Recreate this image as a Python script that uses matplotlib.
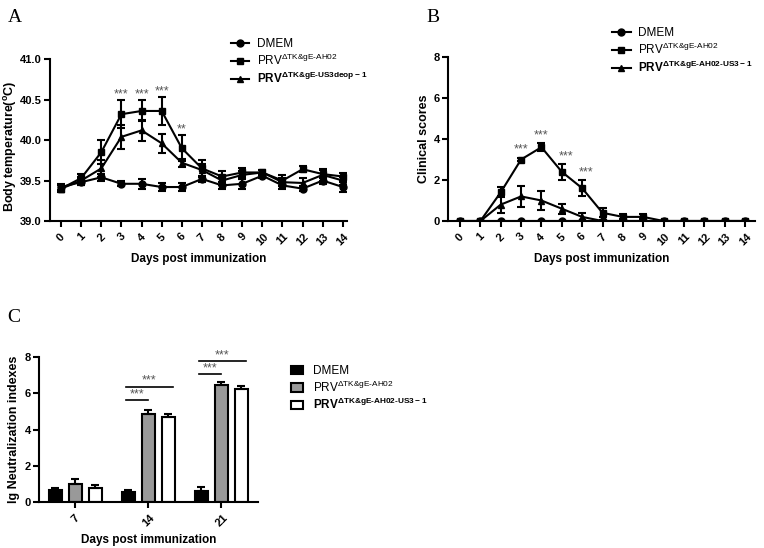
import numpy as np
import matplotlib
matplotlib.use("Agg")
import matplotlib.pyplot as plt

plt.rcParams['font.family'] = ['Liberation Sans', 'DejaVu Sans']
plt.rcParams['mathtext.fontset'] = 'custom'
plt.rcParams['mathtext.rm'] = 'Liberation Sans'

# ---------- data ----------
days = np.arange(15)

# panel A: body temperature
temp_dmem = [39.42, 39.48, 39.54, 39.46, 39.46, 39.42, 39.42, 39.52, 39.44, 39.46, 39.56, 39.44, 39.40, 39.50, 39.42]
temp_dmem_err = [0.04, 0.04, 0.04, 0.03, 0.06, 0.05, 0.05, 0.04, 0.04, 0.06, 0.03, 0.04, 0.03, 0.04, 0.06]
temp_ah02 = [39.40, 39.53, 39.85, 40.32, 40.36, 40.36, 39.90, 39.65, 39.55, 39.60, 39.60, 39.50, 39.64, 39.58, 39.55]
temp_ah02_err = [0.04, 0.05, 0.15, 0.17, 0.13, 0.17, 0.16, 0.10, 0.07, 0.05, 0.03, 0.07, 0.04, 0.05, 0.04]
temp_us3 = [39.40, 39.50, 39.65, 40.04, 40.12, 39.96, 39.72, 39.63, 39.50, 39.57, 39.60, 39.48, 39.47, 39.57, 39.50]
temp_us3_err = [0.04, 0.05, 0.10, 0.15, 0.13, 0.12, 0.05, 0.08, 0.05, 0.05, 0.03, 0.05, 0.06, 0.07, 0.05]

# panel B: clinical scores
score_dmem = [0] * 15
score_ah02 = [0, 0, 1.4, 3.0, 3.6, 2.4, 1.6, 0.4, 0.2, 0.2, 0, 0, 0, 0, 0]
score_ah02_err = [0, 0, 0.25, 0.08, 0.2, 0.38, 0.4, 0.22, 0.12, 0.12, 0, 0, 0, 0, 0]
score_us3 = [0, 0, 0.8, 1.2, 1.0, 0.6, 0.2, 0, 0, 0, 0, 0, 0, 0, 0]
score_us3_err = [0, 0, 0.4, 0.5, 0.45, 0.25, 0.2, 0.05, 0, 0, 0, 0, 0, 0, 0]

# panel C: neutralization indexes
groups = ['7', '14', '21']
neut_dmem = [0.65, 0.55, 0.62]
neut_dmem_err = [0.15, 0.12, 0.22]
neut_ah02 = [1.0, 4.85, 6.45]
neut_ah02_err = [0.25, 0.25, 0.15]
neut_us3 = [0.75, 4.68, 6.22]
neut_us3_err = [0.2, 0.15, 0.2]

HY = '\u2010'
MI = '\u2212'
lab_dmem = 'DMEM'
lab_ah02 = '$\\mathregular{PRV^{\u0394TK&gE' + HY + 'AH02}}$'
lab_us3_a = '$\\mathregular{PRV^{\u0394TK&gE' + HY + 'US3deop' + MI + '1}}$'
lab_us3_b = '$\\mathregular{PRV^{\u0394TK&gE' + HY + 'AH02' + HY + 'US3' + MI + '1}}$'

fig = plt.figure(figsize=(7.64, 5.48), dpi=100)


def style_axes(ax):
    for s in ['top', 'right']:
        ax.spines[s].set_visible(False)
    for s in ['left', 'bottom']:
        ax.spines[s].set_linewidth(1.5)
    ax.tick_params(width=1.5, length=4, labelsize=8)
    ax.tick_params(axis='y', pad=2)
    for t in ax.get_xticklabels() + ax.get_yticklabels():
        t.set_fontweight('bold')


def line_panel(ax, ys, errs, labels):
    markers = ['o', 's', '^']
    handles = []
    for y, e, m, l in zip(ys, errs, markers, labels):
        c = ax.errorbar(days, y, yerr=e, color='k', marker=m, markersize=5, lw=1.5,
                        capsize=3, capthick=1.5, elinewidth=1.5, label=l)
        handles.append(c.lines[0])
    ax.set_xticks(days)
    ax.set_xticklabels([str(d) for d in days], rotation=45)
    ax.set_xlabel('Days post immunization', fontsize=8.5, fontweight='bold')
    return handles


star_kw = dict(ha='center', va='bottom', color='#555555', fontsize=9)
leg_kw = dict(frameon=False, fontsize=8.5, handlelength=1.6, handletextpad=0.6,
              labelspacing=0.25, borderpad=0.2)

# ---- A ----
axA = fig.add_axes([0.0654, 0.5967, 0.3886, 0.2953])
hA = line_panel(axA, [temp_dmem, temp_ah02, temp_us3],
                [temp_dmem_err, temp_ah02_err, temp_us3_err],
                [lab_dmem, lab_ah02, lab_us3_a])
axA.set_xlim(-0.55, 14.2)
axA.set_ylim(39.0, 41.0)
axA.set_yticks([39.0, 39.5, 40.0, 40.5, 41.0])
axA.set_yticklabels(['39.0', '39.5', '40.0', '40.5', '41.0'])
axA.set_ylabel('Body temperature($\\mathregular{^oC}$)', fontsize=9, fontweight='bold')
axA.yaxis.set_label_coords(-0.104, 0.463)
for d, s in zip([3, 4, 5, 6], ['***', '***', '***', '**']):
    axA.text(d, temp_ah02[d] + temp_ah02_err[d] + 0.0, s, **star_kw)
style_axes(axA)
legA = axA.legend(hA, [lab_dmem, lab_ah02, lab_us3_a], loc='upper left',
                  bbox_to_anchor=(0.291, 0.946), bbox_transform=fig.transFigure, **leg_kw)
legA.get_texts()[2].set_fontweight('bold')

# ---- B ----
axB = fig.add_axes([0.5864, 0.5967, 0.4018, 0.2993])
hB = line_panel(axB, [score_dmem, score_ah02, score_us3],
                [[0] * 15, score_ah02_err, score_us3_err],
                [lab_dmem, lab_ah02, lab_us3_b])
axB.set_xlim(-0.59, 14.49)
axB.set_ylim(0, 8)
axB.set_yticks([0, 2, 4, 6, 8])
axB.set_ylabel('Clinical scores', fontsize=9, fontweight='bold')
axB.yaxis.set_label_coords(-0.058, 0.5)
for d in [3, 4, 5, 6]:
    off = 0.2 if d >= 5 else 0.0
    axB.text(d + off, score_ah02[d] + score_ah02_err[d] + 0.1, '***', **star_kw)
style_axes(axB)
legB = axB.legend(hB, [lab_dmem, lab_ah02, lab_us3_b], loc='upper left',
                  bbox_to_anchor=(0.79, 0.966), bbox_transform=fig.transFigure, **leg_kw)
legB.get_texts()[2].set_fontweight('bold')

# ---- C ----
axC = fig.add_axes([0.051, 0.0839, 0.2866, 0.2646])
x = np.arange(len(groups))
w = 0.18
d = 0.274
kw = dict(width=w, edgecolor='k', linewidth=1.5, capsize=3,
          error_kw=dict(elinewidth=1.5, capthick=1.5))
for off, vals, errs, fc, lab in [(-d, neut_dmem, neut_dmem_err, 'black', lab_dmem),
                                 (0, neut_ah02, neut_ah02_err, '#999999', lab_ah02),
                                 (d, neut_us3, neut_us3_err, 'white', lab_us3_b)]:
    axC.bar(x + off, vals, color=fc, label=lab, yerr=[[0] * 3, errs], **kw)
axC.set_xlim(-0.5, 2.5)
axC.set_ylim(0, 8)
axC.set_yticks([0, 2, 4, 6, 8])
axC.set_xticks(x)
axC.set_xticklabels(groups, rotation=45)
axC.set_xlabel('Days post immunization', fontsize=8.5, fontweight='bold')
axC.set_ylabel('lg Neutralization indexes', fontsize=9, fontweight='bold')
axC.yaxis.set_label_coords(-0.087, 0.5)
brackets = [(1, 5.63, 0.0), (1, 6.35, 0.33), (2, 7.06, 0.0), (2, 7.78, 0.33)]
for g, yv, x2 in brackets:
    axC.plot([g - 0.31, g + x2], [yv, yv], color='k', lw=1.2, clip_on=False)
    axC.text((g - 0.31 + g + x2) / 2, yv, '***', **star_kw)
style_axes(axC)
legC = axC.legend(loc='upper left', bbox_to_anchor=(0.37, 0.349),
                  bbox_transform=fig.transFigure, frameon=False, fontsize=8.5,
                  handlelength=1.0, handleheight=0.7, handletextpad=0.9,
                  labelspacing=0.2, borderpad=0.2)
legC.get_texts()[2].set_fontweight('bold')

# panel letters
for lx, ly, s in [(0.01, 0.96, 'A'), (0.558, 0.96, 'B'), (0.01, 0.412, 'C')]:
    fig.text(lx, ly, s, fontsize=14, family='Liberation Serif')

fig.savefig('out.png', dpi=100)
